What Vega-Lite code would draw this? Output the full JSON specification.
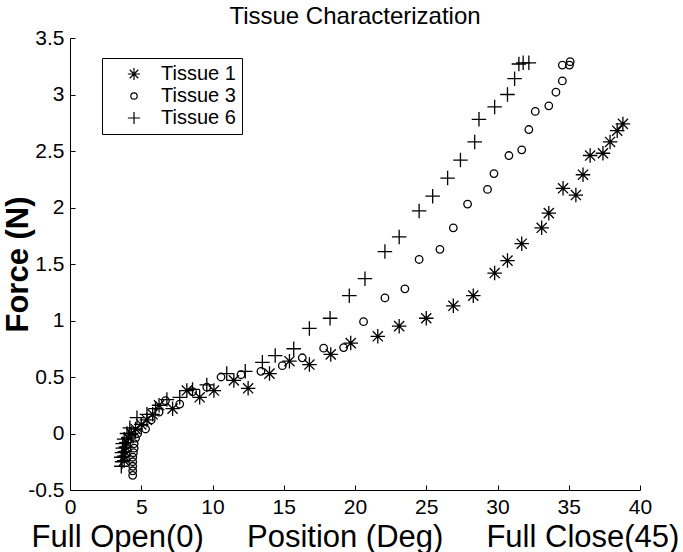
{
  "$schema": "https://vega.github.io/schema/vega-lite/v6.json",
  "width": 570,
  "height": 452,
  "autosize": {"type": "none"},
  "padding": {"left": 70, "top": 38, "right": 43, "bottom": 62},
  "background": "white",
  "title": {"text": "Tissue Characterization", "fontSize": 24, "font": "Liberation Sans", "fontWeight": "normal", "anchor": "middle", "offset": -2, "color": "black"},
  "config": {"view": {"stroke": null}, "font": "Liberation Sans"},
  "data": {"values": [
    {"tissue": "Tissue 1", "x": 3.8, "y": -0.24}, {"tissue": "Tissue 1", "x": 3.8, "y": -0.2}, {"tissue": "Tissue 1", "x": 3.85, "y": -0.16},
    {"tissue": "Tissue 1", "x": 3.9, "y": -0.12}, {"tissue": "Tissue 1", "x": 3.95, "y": -0.08}, {"tissue": "Tissue 1", "x": 4.1, "y": -0.04},
    {"tissue": "Tissue 1", "x": 4.3, "y": 0.0}, {"tissue": "Tissue 1", "x": 4.6, "y": 0.04}, {"tissue": "Tissue 1", "x": 5.0, "y": 0.08},
    {"tissue": "Tissue 1", "x": 5.4, "y": 0.12}, {"tissue": "Tissue 1", "x": 5.8, "y": 0.17}, {"tissue": "Tissue 1", "x": 6.25, "y": 0.25},
    {"tissue": "Tissue 1", "x": 7.2, "y": 0.22}, {"tissue": "Tissue 1", "x": 8.2, "y": 0.38}, {"tissue": "Tissue 1", "x": 9.1, "y": 0.32},
    {"tissue": "Tissue 1", "x": 10.1, "y": 0.38}, {"tissue": "Tissue 1", "x": 11.5, "y": 0.47}, {"tissue": "Tissue 1", "x": 12.5, "y": 0.4},
    {"tissue": "Tissue 1", "x": 14.0, "y": 0.53}, {"tissue": "Tissue 1", "x": 15.4, "y": 0.64}, {"tissue": "Tissue 1", "x": 16.8, "y": 0.61},
    {"tissue": "Tissue 1", "x": 18.3, "y": 0.7}, {"tissue": "Tissue 1", "x": 19.7, "y": 0.8}, {"tissue": "Tissue 1", "x": 21.6, "y": 0.86},
    {"tissue": "Tissue 1", "x": 23.1, "y": 0.95}, {"tissue": "Tissue 1", "x": 25.0, "y": 1.02}, {"tissue": "Tissue 1", "x": 26.9, "y": 1.13},
    {"tissue": "Tissue 1", "x": 28.3, "y": 1.22}, {"tissue": "Tissue 1", "x": 29.8, "y": 1.42}, {"tissue": "Tissue 1", "x": 30.7, "y": 1.53},
    {"tissue": "Tissue 1", "x": 31.7, "y": 1.68}, {"tissue": "Tissue 1", "x": 33.1, "y": 1.82}, {"tissue": "Tissue 1", "x": 33.6, "y": 1.95},
    {"tissue": "Tissue 1", "x": 34.6, "y": 2.17}, {"tissue": "Tissue 1", "x": 35.5, "y": 2.11}, {"tissue": "Tissue 1", "x": 36.0, "y": 2.29},
    {"tissue": "Tissue 1", "x": 36.5, "y": 2.46}, {"tissue": "Tissue 1", "x": 37.4, "y": 2.48}, {"tissue": "Tissue 1", "x": 37.9, "y": 2.58},
    {"tissue": "Tissue 1", "x": 38.4, "y": 2.68}, {"tissue": "Tissue 1", "x": 38.8, "y": 2.74},

    {"tissue": "Tissue 3", "x": 4.4, "y": -0.37}, {"tissue": "Tissue 3", "x": 4.4, "y": -0.33}, {"tissue": "Tissue 3", "x": 4.4, "y": -0.29},
    {"tissue": "Tissue 3", "x": 4.4, "y": -0.25}, {"tissue": "Tissue 3", "x": 4.4, "y": -0.21}, {"tissue": "Tissue 3", "x": 4.45, "y": -0.17},
    {"tissue": "Tissue 3", "x": 4.5, "y": -0.13}, {"tissue": "Tissue 3", "x": 4.5, "y": -0.09}, {"tissue": "Tissue 3", "x": 4.6, "y": -0.04},
    {"tissue": "Tissue 3", "x": 4.75, "y": 0.0}, {"tissue": "Tissue 3", "x": 5.3, "y": 0.04}, {"tissue": "Tissue 3", "x": 5.7, "y": 0.12},
    {"tissue": "Tissue 3", "x": 6.25, "y": 0.19}, {"tissue": "Tissue 3", "x": 6.7, "y": 0.29}, {"tissue": "Tissue 3", "x": 7.7, "y": 0.26},
    {"tissue": "Tissue 3", "x": 8.6, "y": 0.37}, {"tissue": "Tissue 3", "x": 9.6, "y": 0.41}, {"tissue": "Tissue 3", "x": 10.6, "y": 0.5},
    {"tissue": "Tissue 3", "x": 12.0, "y": 0.52}, {"tissue": "Tissue 3", "x": 13.4, "y": 0.55}, {"tissue": "Tissue 3", "x": 14.9, "y": 0.6},
    {"tissue": "Tissue 3", "x": 16.3, "y": 0.67}, {"tissue": "Tissue 3", "x": 17.8, "y": 0.755}, {"tissue": "Tissue 3", "x": 19.2, "y": 0.76},
    {"tissue": "Tissue 3", "x": 20.6, "y": 0.99}, {"tissue": "Tissue 3", "x": 22.1, "y": 1.2}, {"tissue": "Tissue 3", "x": 23.5, "y": 1.28},
    {"tissue": "Tissue 3", "x": 24.5, "y": 1.54}, {"tissue": "Tissue 3", "x": 25.96, "y": 1.63}, {"tissue": "Tissue 3", "x": 26.9, "y": 1.82},
    {"tissue": "Tissue 3", "x": 27.9, "y": 2.03}, {"tissue": "Tissue 3", "x": 29.3, "y": 2.16}, {"tissue": "Tissue 3", "x": 29.75, "y": 2.3},
    {"tissue": "Tissue 3", "x": 30.8, "y": 2.46}, {"tissue": "Tissue 3", "x": 31.7, "y": 2.51}, {"tissue": "Tissue 3", "x": 32.2, "y": 2.69},
    {"tissue": "Tissue 3", "x": 32.65, "y": 2.85}, {"tissue": "Tissue 3", "x": 33.6, "y": 2.9}, {"tissue": "Tissue 3", "x": 34.1, "y": 3.02},
    {"tissue": "Tissue 3", "x": 34.55, "y": 3.12}, {"tissue": "Tissue 3", "x": 34.55, "y": 3.26}, {"tissue": "Tissue 3", "x": 35.05, "y": 3.26},
    {"tissue": "Tissue 3", "x": 35.1, "y": 3.29},

    {"tissue": "Tissue 6", "x": 3.6, "y": -0.29}, {"tissue": "Tissue 6", "x": 3.65, "y": -0.25}, {"tissue": "Tissue 6", "x": 3.6, "y": -0.21},
    {"tissue": "Tissue 6", "x": 3.65, "y": -0.17}, {"tissue": "Tissue 6", "x": 3.7, "y": -0.13}, {"tissue": "Tissue 6", "x": 3.7, "y": -0.09},
    {"tissue": "Tissue 6", "x": 3.8, "y": -0.05}, {"tissue": "Tissue 6", "x": 4.0, "y": 0.0}, {"tissue": "Tissue 6", "x": 4.2, "y": 0.05},
    {"tissue": "Tissue 6", "x": 4.7, "y": 0.14}, {"tissue": "Tissue 6", "x": 5.4, "y": 0.17}, {"tissue": "Tissue 6", "x": 6.0, "y": 0.22},
    {"tissue": "Tissue 6", "x": 6.8, "y": 0.3}, {"tissue": "Tissue 6", "x": 7.7, "y": 0.32}, {"tissue": "Tissue 6", "x": 8.6, "y": 0.39},
    {"tissue": "Tissue 6", "x": 9.6, "y": 0.43}, {"tissue": "Tissue 6", "x": 11.0, "y": 0.53}, {"tissue": "Tissue 6", "x": 12.3, "y": 0.55},
    {"tissue": "Tissue 6", "x": 13.5, "y": 0.63}, {"tissue": "Tissue 6", "x": 14.4, "y": 0.69}, {"tissue": "Tissue 6", "x": 15.7, "y": 0.75},
    {"tissue": "Tissue 6", "x": 16.8, "y": 0.93}, {"tissue": "Tissue 6", "x": 18.25, "y": 1.02}, {"tissue": "Tissue 6", "x": 19.6, "y": 1.22},
    {"tissue": "Tissue 6", "x": 20.7, "y": 1.37}, {"tissue": "Tissue 6", "x": 22.1, "y": 1.61}, {"tissue": "Tissue 6", "x": 23.1, "y": 1.74},
    {"tissue": "Tissue 6", "x": 24.5, "y": 1.97}, {"tissue": "Tissue 6", "x": 25.45, "y": 2.1}, {"tissue": "Tissue 6", "x": 26.5, "y": 2.26},
    {"tissue": "Tissue 6", "x": 27.4, "y": 2.42}, {"tissue": "Tissue 6", "x": 28.4, "y": 2.58}, {"tissue": "Tissue 6", "x": 28.7, "y": 2.78},
    {"tissue": "Tissue 6", "x": 29.8, "y": 2.89}, {"tissue": "Tissue 6", "x": 30.7, "y": 3.0}, {"tissue": "Tissue 6", "x": 31.2, "y": 3.14},
    {"tissue": "Tissue 6", "x": 31.5, "y": 3.27}, {"tissue": "Tissue 6", "x": 31.8, "y": 3.28}, {"tissue": "Tissue 6", "x": 32.2, "y": 3.28}
  ]},
  "mark": {"type": "point", "filled": false, "stroke": "black", "strokeWidth": 1.3, "opacity": 1, "size": 210},
  "encoding": {
    "x": {
      "field": "x", "type": "quantitative",
      "scale": {"domain": [0, 40], "nice": false, "zero": false},
      "axis": {
        "values": [0, 5, 10, 15, 20, 25, 30, 35, 40],
        "labelExpr": "datum.value + ''",
        "grid": false, "domainColor": "black", "tickColor": "black", "tickSize": -5,
        "labelFontSize": 21, "labelColor": "black", "labelPadding": 11, "labelFlush": false,
        "title": "Full Open(0)\u00a0\u00a0\u00a0\u00a0\u00a0Position (Deg)\u00a0\u00a0\u00a0\u00a0\u00a0Full Close(45)",
        "titleFontSize": 31, "titleFontWeight": "normal", "titleColor": "black",
        "titleY": 56, "titleBaseline": "alphabetic"
      }
    },
    "y": {
      "field": "y", "type": "quantitative",
      "scale": {"domain": [-0.5, 3.5], "nice": false, "zero": false},
      "axis": {
        "values": [-0.5, 0, 0.5, 1, 1.5, 2, 2.5, 3, 3.5],
        "labelExpr": "datum.value + ''",
        "grid": false, "domainColor": "black", "tickColor": "black", "tickSize": -5,
        "labelFontSize": 21, "labelColor": "black", "labelPadding": 11, "labelFlush": false,
        "title": "Force (N)", "titleFontSize": 31, "titleFontWeight": "bold", "titleColor": "black",
        "titleX": -43, "titleY": 226, "titleBaseline": "alphabetic", "titleAlign": "center", "titleAngle": -90
      }
    },
    "shape": {
      "field": "tissue", "type": "nominal",
      "scale": {
        "domain": ["Tissue 1", "Tissue 3", "Tissue 6"],
        "range": [
          "M-1,0L1,0M0,-1L0,1M-0.7,-0.7L0.7,0.7M-0.7,0.7L0.7,-0.7",
          "M0.52,0A0.52,0.52,0,1,1,-0.52,0A0.52,0.52,0,1,1,0.52,0Z",
          "M-1,0L1,0M0,-1L0,1"
        ]
      },
      "legend": {
        "orient": "none", "legendX": 32, "legendY": 20, "title": null,
        "strokeColor": "black", "fillColor": "white", "padding": 6,
        "labelFontSize": 20, "labelColor": "black", "labelOffset": 17,
        "symbolSize": 150, "symbolStrokeColor": "black", "symbolStrokeWidth": 1.2, "symbolFillColor": "transparent",
        "symbolOffset": 16, "rowPadding": 2,
        "labelExpr": "datum.label + '\u00a0\u00a0\u00a0\u00a0\u00a0'"
      }
    }
  }
}
